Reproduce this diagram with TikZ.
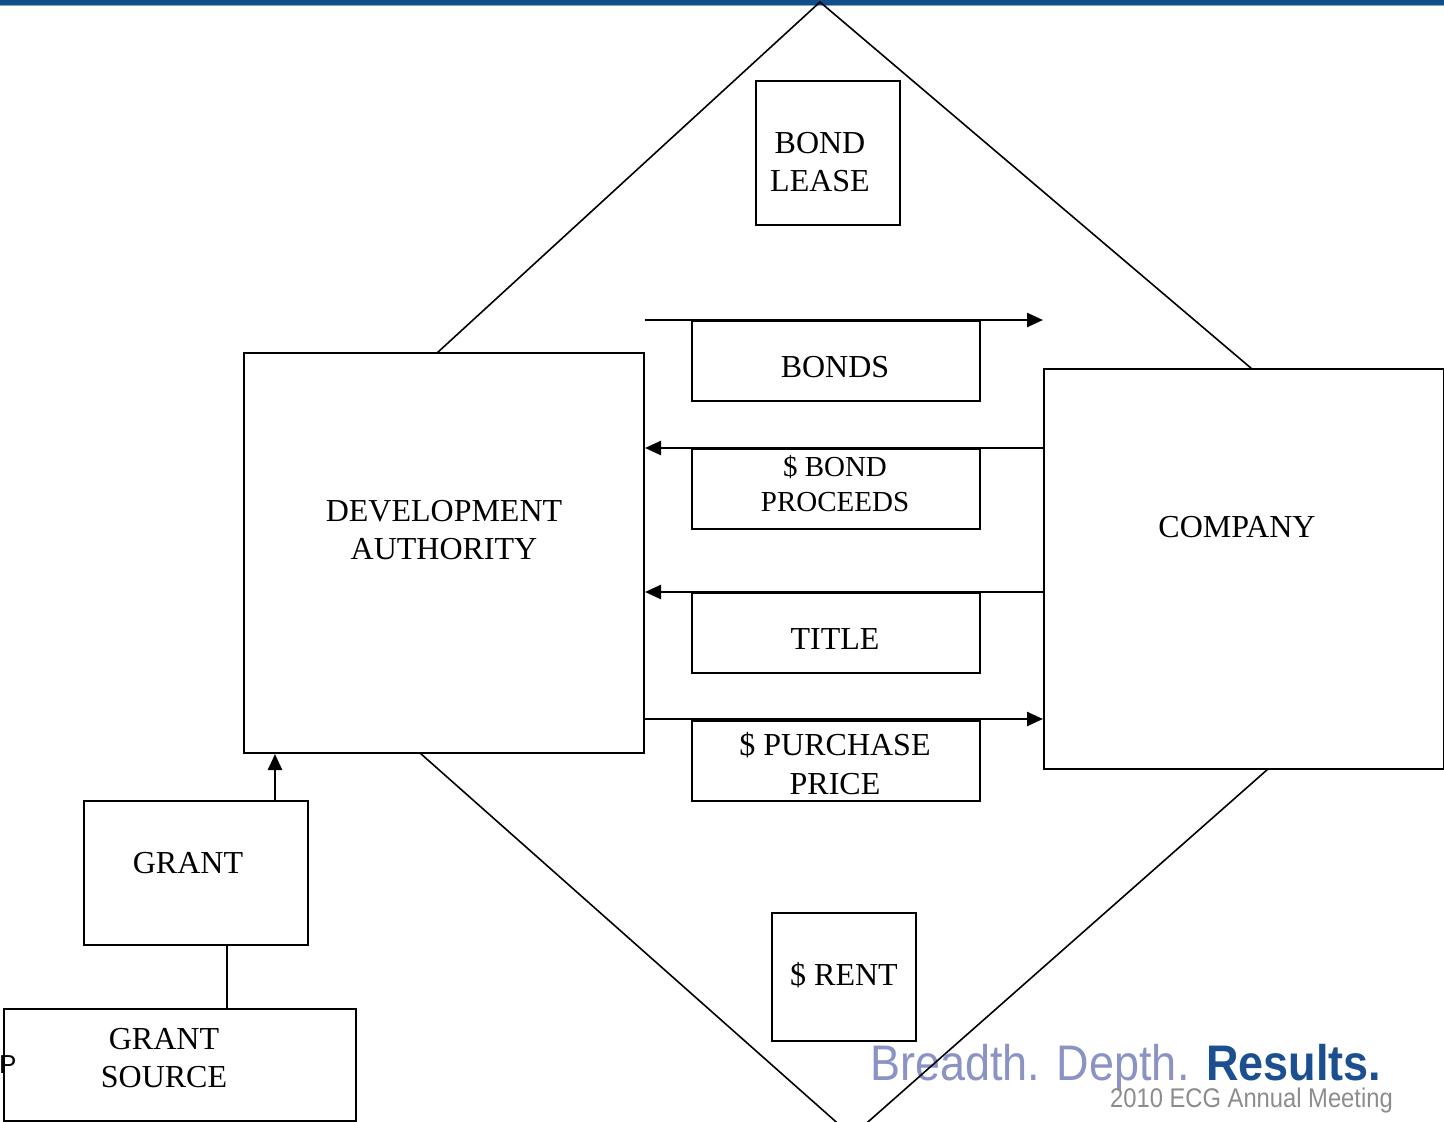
\documentclass[tikz,border=0pt]{standalone}
\usepackage{fontspec}
\usepackage{graphicx}
\setmainfont{Liberation Serif}
\newfontfamily\footfont{Liberation Sans}
\usetikzlibrary{arrows.meta}
\definecolor{barblue}{HTML}{124E8A}
\definecolor{barlight}{HTML}{7FA9C9}
\definecolor{softblue}{HTML}{8A93C4}
\definecolor{darkblue}{HTML}{1B4F8F}
\definecolor{footgray}{HTML}{8C8C8C}
\tikzset{
  box/.style={draw=black, fill=white, line width=2pt, inner sep=0pt},
  lbl/.style={align=center, inner sep=0pt, font=\fontsize{32}{38}\selectfont},
  flow/.style={line width=2.5pt, -{Triangle[length=16pt,width=14pt]}},
  plain/.style={line width=2.5pt},
  dia/.style={line width=1.6pt}
}
\begin{document}
\begin{tikzpicture}[x=1pt,y=-1pt]
\useasboundingbox (0,0) rectangle (1444,1122);
\clip (0,0) rectangle (1444,1122);
% top bar
\fill[barblue] (0,0) rectangle (1444,4.5);
\fill[barlight] (0,4.5) rectangle (1444,5.5);
% footer
\node[anchor=base west, inner sep=0pt, font=\footfont\fontsize{50}{50}\selectfont] (tagline) at (870,1080)
  {\scalebox{0.9}[1]{\textcolor{softblue}{Breadth. Depth.} \textcolor{darkblue}{\bfseries Results.}}};
\node[anchor=base east, inner sep=0pt, text=footgray, font=\footfont\fontsize{27}{27}\selectfont] (meeting) at (1393,1107)
  {\scalebox{0.88}[1]{2010 ECG Annual Meeting}};
% diamond
\coordinate (dtop) at (820,2);
\coordinate (dbot) at (852,1136);
\draw[dia] (437,353) -- (dtop) -- (1252,369);
\draw[dia] (420,753) -- (dbot) -- (1268,769);
% boxes
\node[box, minimum width=144pt, minimum height=144pt] (lease) at (828,153) {};
\node[box, minimum width=400pt, minimum height=400pt] (da) at (444,553) {};
\node[box, minimum width=400pt, minimum height=400pt] (co) at (1244,569) {};
\node[box, minimum width=288pt, minimum height=80pt] (bonds) at (836,361) {};
\node[box, minimum width=288pt, minimum height=80pt] (proceeds) at (836,489) {};
\node[box, minimum width=288pt, minimum height=80pt] (title) at (836,633) {};
\node[box, minimum width=288pt, minimum height=80pt] (purchase) at (836,761) {};
\node[box, minimum width=224pt, minimum height=144pt] (grant) at (196,873) {};
\node[box, minimum width=352pt, minimum height=112pt] (source) at (180,1065) {};
\node[box, minimum width=144pt, minimum height=128pt] (rent) at (844,977) {};
% labels
\node[lbl] (leaset) at (820,162) {BOND\\LEASE};
\node[lbl] (dat) at (444,530) {DEVELOPMENT\\AUTHORITY};
\node[lbl] (cot) at (1237,527) {COMPANY};
\node[lbl] (bondst) at (835,367) {BONDS};
\node[lbl, font=\fontsize{29}{35}\selectfont] (proceedst) at (835,484) {\$ BOND\\PROCEEDS};
\node[lbl] (titlet) at (835,639) {TITLE};
\node[lbl, font=\fontsize{32}{39}\selectfont] (purchaset) at (835,764) {\$ PURCHASE\\PRICE};
\node[lbl] (grantt) at (188,863) {GRANT};
\node[lbl] (sourcet) at (164,1058) {GRANT\\SOURCE};
\node[lbl] (rentt) at (844,975) {\$ RENT};
\node[anchor=west, inner sep=0pt, font=\footfont\fontsize{26}{26}\selectfont] (pmark) at (-1,1065) {P};
% flows
\draw[flow] (da.east |- bonds.north) -- (co.west |- bonds.north);
\draw[flow] (co.west |- proceeds.north) -- (da.east |- proceeds.north);
\draw[flow] (co.west |- title.north) -- (da.east |- title.north);
\draw[flow] ([yshift=1pt]da.east |- purchase.north) -- ([yshift=1pt]co.west |- purchase.north);
\draw[flow] ([xshift=192pt]grant.north west) -- ([xshift=192pt]grant.north west |- da.south);
\draw[plain] ([xshift=144pt]grant.south west) -- ([xshift=144pt]grant.south west |- source.north);
\end{tikzpicture}
\end{document}
